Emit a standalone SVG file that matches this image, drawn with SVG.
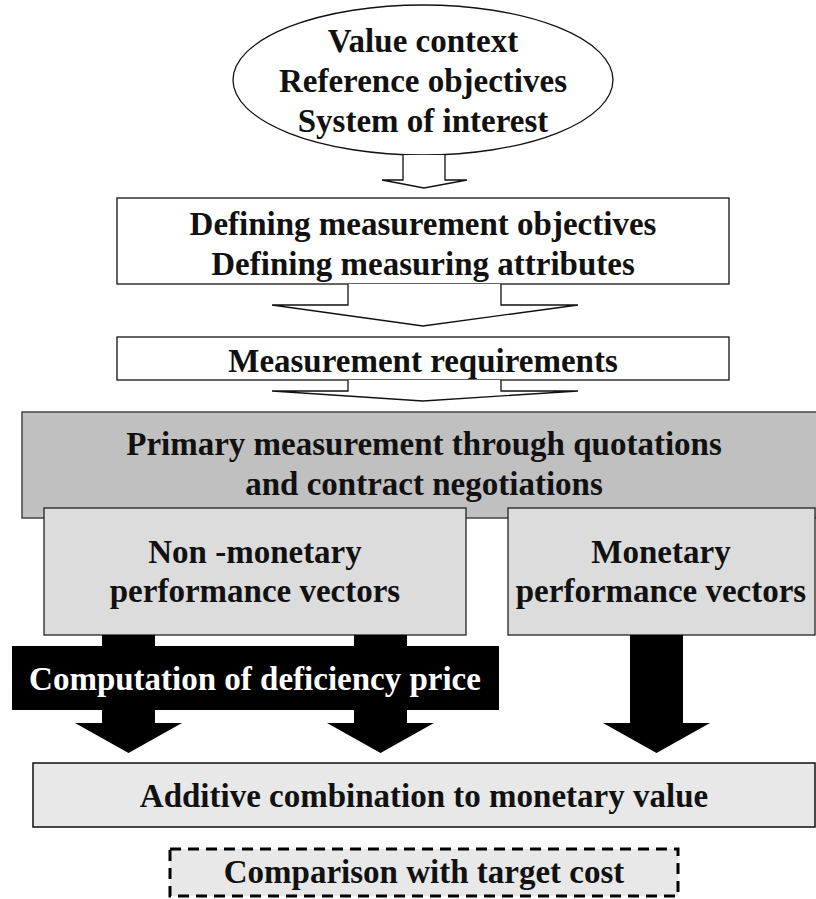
<svg xmlns="http://www.w3.org/2000/svg" width="816" height="899" viewBox="0 0 816 899">
<style>
.t{font-family:"Liberation Serif","Times New Roman",serif;font-weight:bold;font-size:33px;fill:#111;text-anchor:middle}
.w{fill:#fff}
.ol{fill:#fff;stroke:#111;stroke-width:1.3}
.lg{fill:#dcdcdc;stroke:#222;stroke-width:1.3}
.vl{fill:#e8e8e8;stroke:#111;stroke-width:1.5}
.blk{fill:#000}
</style>
<rect width="816" height="899" fill="#fff"/>
<g id="n_context">
<ellipse cx="423" cy="80" rx="190" ry="75" class="ol"/>
<text class="t" x="423" y="52">Value context</text>
<text class="t" x="423" y="92">Reference objectives</text>
<text class="t" x="423" y="132">System of interest</text>
</g>
<g id="n_defining">
<rect x="117" y="198" width="612" height="86" class="ol"/>
<text class="t" x="423" y="235">Defining measurement objectives</text>
<text class="t" x="423" y="275">Defining measuring attributes</text>
</g>
<g id="n_requirements">
<rect x="117" y="337" width="612" height="43" class="ol"/>
<text class="t" x="423" y="372">Measurement requirements</text>
</g>
<g id="n_primary">
<rect x="22" y="412" width="800" height="106" fill="#c0c0c0" stroke="#444" stroke-width="1.5"/>
<text class="t" x="424" y="455">Primary measurement through quotations</text>
<text class="t" x="424" y="495">and contract negotiations</text>
</g>
<g id="n_nonmonetary">
<rect x="44" y="508" width="422" height="127" class="lg"/>
<text class="t" x="255" y="563">Non -monetary</text>
<text class="t" x="255" y="602">performance vectors</text>
</g>
<g id="n_monetary">
<rect x="508" y="508" width="307" height="127" class="lg"/>
<text class="t" x="661" y="563">Monetary</text>
<text class="t" x="661" y="602">performance vectors</text>
</g>
<g id="connectors">
<path d="M403,155 L403,180 L382,180 L424,188 L467,180 L445,180 L445,155" class="ol"/>
<path d="M348,284 L348,305 L272,305 L423,326 L578,305 L501,305 L501,284" class="ol"/>
<path d="M348,380 L348,391 L272,391 L423,401 L578,391 L501,391 L501,380" class="ol"/>
<polygon class="blk" points="102,635 155,635 155,723 182,723 128.5,753 75,723 102,723"/>
<polygon class="blk" points="354,635 407,635 407,723 434,723 380.5,753 327,723 354,723"/>
<polygon class="blk" points="630,635 683,635 683,723 710,723 656.5,753 603,723 630,723"/>
</g>
<g id="n_deficiency">
<rect x="12" y="646" width="487" height="64" class="blk"/>
<text class="t w" x="255" y="690">Computation of deficiency price</text>
</g>
<g id="n_additive">
<rect x="33" y="763" width="782" height="64" class="vl"/>
<text class="t" x="424" y="807">Additive combination to monetary value</text>
</g>
<g id="n_comparison">
<rect x="170" y="849" width="508" height="47" fill="#e8e8e8" stroke="#000" stroke-width="3" stroke-dasharray="11,7"/>
<text class="t" x="424" y="883">Comparison with target cost</text>
</g>
</svg>
